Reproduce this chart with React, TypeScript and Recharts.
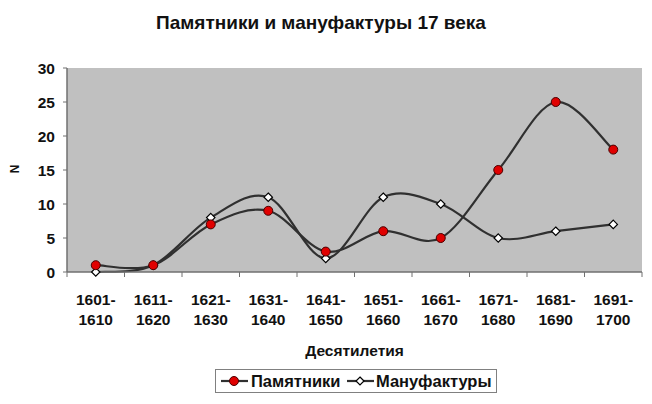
import React from "react";
import { LineChart, Line, XAxis, YAxis, CartesianGrid } from "recharts";

const categories = [
  "1601-1610", "1611-1620", "1621-1630", "1631-1640", "1641-1650",
  "1651-1660", "1661-1670", "1671-1680", "1681-1690", "1691-1700",
];
const pamyatniki = [1, 1, 7, 9, 3, 6, 5, 15, 25, 18];
const manufaktury = [0, 1, 8, 11, 2, 11, 10, 5, 6, 7];
const yTicks = [0, 5, 10, 15, 20, 25, 30];
const seriesNames = ["Памятники", "Мануфактуры"];
const title = "Памятники и мануфактуры 17 века";
const xTitle = "Десятилетия";
const yTitle = "N";

const data = categories.map((c, i) => ({ cat: c, p: pamyatniki[i], m: manufaktury[i] }));

const FONT = "'Liberation Sans', Arial, sans-serif";
const LINE = "#303030";
const PLOT_W = 575;
const N_CAT = categories.length;
const HALF = PLOT_W / N_CAT / 2;

// Excel-like smoothed curve (Catmull-Rom as Bezier)
const excelSmooth = (context: any) => {
  let pts: number[][] = [];
  return {
    areaStart() {},
    areaEnd() {},
    lineStart() { pts = []; },
    lineEnd() {
      const n = pts.length;
      if (!n) return;
      context.moveTo(pts[0][0], pts[0][1]);
      for (let i = 0; i < n - 1; i++) {
        const p0 = pts[Math.max(0, i - 1)];
        const p1 = pts[i];
        const p2 = pts[i + 1];
        const p3 = pts[Math.min(n - 1, i + 2)];
        context.bezierCurveTo(
          p1[0] + (p2[0] - p0[0]) / 6, p1[1] + (p2[1] - p0[1]) / 6,
          p2[0] - (p3[0] - p1[0]) / 6, p2[1] - (p3[1] - p1[1]) / 6,
          p2[0], p2[1]
        );
      }
    },
    point(x: number, y: number) { pts.push([+x, +y]); },
  };
};

const RedDot = (props: any) => {
  const { cx, cy } = props;
  if (cx == null || cy == null) return null;
  return <circle cx={cx} cy={cy} r={4.5} fill="#e00000" stroke="#4a0000" strokeWidth={1} />;
};

const Diamond = (props: any) => {
  const { cx, cy } = props;
  if (cx == null || cy == null) return null;
  const s = 4.2;
  return (
    <path
      d={`M${cx},${cy - s}L${cx + s},${cy}L${cx},${cy + s}L${cx - s},${cy}Z`}
      fill="#ffffff"
      stroke="#000"
      strokeWidth={1.2}
    />
  );
};

const XTick = (props: any) => {
  const { x, y, payload, index, visibleTicksCount } = props;
  const [a, b] = String(payload.value).split("-");
  return (
    <g>
      <line x1={x - HALF} y1={y} x2={x - HALF} y2={y + 5} stroke="#707070" strokeWidth={1} />
      {index === visibleTicksCount - 1 && (
        <line x1={x + HALF} y1={y} x2={x + HALF} y2={y + 5} stroke="#707070" strokeWidth={1} />
      )}
      <text x={x} y={y + 33} textAnchor="middle" fontFamily={FONT} fontWeight="bold" fontSize={15.5} fill="#111">
        {a + "-"}
      </text>
      <text x={x} y={y + 53} textAnchor="middle" fontFamily={FONT} fontWeight="bold" fontSize={15.5} fill="#111">
        {b}
      </text>
    </g>
  );
};

const XTitle = (props: any) => {
  const { viewBox } = props;
  return (
    <text x={viewBox.x + viewBox.width / 2} y={viewBox.y + 84} textAnchor="middle" fontFamily={FONT} fontWeight="bold" fontSize={15.5} fill="#111">
      {xTitle}
    </text>
  );
};

const YTitle = (props: any) => {
  const { viewBox } = props;
  const cx = viewBox.x + 15;
  const cy = viewBox.y + viewBox.height / 2 - 1;
  return (
    <text x={cx} y={cy} textAnchor="middle" dominantBaseline="central" transform={`rotate(-90 ${cx} ${cy})`} fontFamily={FONT} fontWeight="bold" fontSize={12} fill="#111">
      {yTitle}
    </text>
  );
};

const LegendIcon = ({ kind }: { kind: number }) => (
  <svg width={29} height={14} style={{ display: "block" }}>
    <line x1={1} y1={7} x2={28} y2={7} stroke={LINE} strokeWidth={2.2} />
    {kind === 0 ? (
      <circle cx={14} cy={7} r={4.5} fill="#e00000" stroke="#4a0000" strokeWidth={1} />
    ) : (
      <path d="M14,3L18,7L14,11L10,7Z" fill="#fff" stroke="#000" strokeWidth={1.2} />
    )}
  </svg>
);

export default function App() {
  return (
    <div style={{ position: "absolute", left: 0, top: 0, width: 652, height: 404, background: "#fff" }}>
      <div
        style={{
          position: "absolute", left: 0, top: 12, width: 642, textAlign: "center",
          fontFamily: FONT, fontWeight: "bold", fontSize: 19, color: "#111",
        }}
      >
        {title}
      </div>
      <LineChart width={652} height={404} data={data} margin={{ top: 68, right: 10, left: 0, bottom: 0 }}>
        <CartesianGrid horizontal={false} vertical={false} fill="#c0c0c0" />
        <XAxis
          dataKey="cat"
          height={132}
          tick={<XTick />}
          tickLine={false}
          tickSize={0}
          tickMargin={0}
          interval={0}
          padding={{ left: HALF, right: HALF }}
          axisLine={{ stroke: "#707070", strokeWidth: 1.5 }}
          label={<XTitle />}
        />
        <YAxis
          width={67}
          domain={[0, 30]}
          ticks={yTicks}
          interval={0}
          tickSize={4}
          tickMargin={8}
          tickLine={{ stroke: "#707070" }}
          axisLine={{ stroke: "#707070", strokeWidth: 1.5 }}
          tick={{ fontFamily: FONT, fontWeight: "bold", fontSize: 15.5, fill: "#111" }}
          label={<YTitle />}
        />
        <Line
          type={excelSmooth as any}
          dataKey="m"
          name={seriesNames[1]}
          stroke={LINE}
          strokeWidth={2.2}
          dot={<Diamond />}
          activeDot={false}
          isAnimationActive={false}
        />
        <Line
          type={excelSmooth as any}
          dataKey="p"
          name={seriesNames[0]}
          stroke={LINE}
          strokeWidth={2.2}
          dot={<RedDot />}
          activeDot={false}
          isAnimationActive={false}
        />
      </LineChart>
      <div
        style={{
          position: "absolute", left: 215, top: 369, width: 282, height: 24, boxSizing: "border-box",
          border: "1px solid #808080", display: "flex", alignItems: "center", paddingLeft: 4,
          fontFamily: FONT, fontWeight: "bold", fontSize: 16.5, color: "#111", whiteSpace: "nowrap",
        }}
      >
        <LegendIcon kind={0} />
        <span style={{ marginLeft: 2, width: 95 }}>{seriesNames[0]}</span>
        <LegendIcon kind={1} />
        <span style={{ marginLeft: 1 }}>{seriesNames[1]}</span>
      </div>
    </div>
  );
}
